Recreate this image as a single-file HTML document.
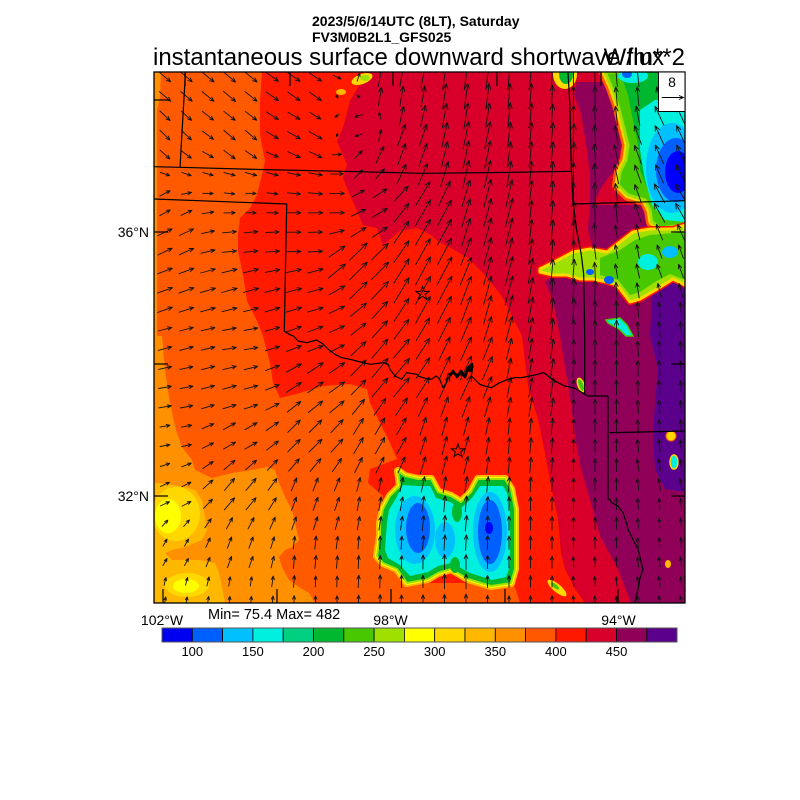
<!DOCTYPE html>
<html><head><meta charset="utf-8"><style>html,body{margin:0;padding:0;background:#fff}svg{display:block}</style></head>
<body>
<svg id="s" width="800" height="800" viewBox="0 0 800 800" xmlns="http://www.w3.org/2000/svg" font-family="'Liberation Sans', Arial, sans-serif">
<rect width="800" height="800" fill="#fff"/>
<defs><clipPath id="mc"><rect x="154" y="72" width="531" height="531"/></clipPath></defs>
<g clip-path="url(#mc)">
  <rect x="154" y="72" width="531" height="531" fill="#FF5A00"/>
  <polygon fill="#FF9000" points="154,72 161,72 160,98 157,110 157,336 162,336 165,370 170,403 176,430 182,447 192,460 195,470 212,478 232,473 252,470 267,467 275,470 279,483 285,497 292,510 295,523 299,540 292,547 285,550 279,557 282,567 289,580 299,587 309,593 315,603 154,603"/>
  <polygon fill="#FFB800" points="154,483 159,483 185,487 195,490 202,500 205,517 207,530 202,540 185,547 172,550 165,553 172,560 199,560 215,563 219,573 222,587 225,603 154,603"/>
  <ellipse cx="176" cy="514" rx="24" ry="27" fill="#FFD800"/>
  <ellipse cx="168" cy="516" rx="13" ry="17" fill="#FFFF00"/>
  <ellipse cx="187" cy="585" rx="22" ry="12" fill="#FFD800"/>
  <ellipse cx="186" cy="586" rx="13" ry="7" fill="#FFFF00"/>
  <polygon fill="#FF1A00" points="262,72 260,101 260,135 265,161 262,175 257,195 250,208 240,218 238,235 238,251 243,275 247,301 257,321 263,336 270,363 273,383 280,398 300,393 323,386 350,384 367,389 370,403 380,423 390,443 397,459 370,469 368,483 383,496 380,536 380,560 400,575 420,583 480,583 512,583 516,590 520,603 685,603 685,72"/>
  <polygon fill="#D8002A" points="367,72 350,101 343,128 337,141 347,165 343,178 350,195 357,211 363,225 377,228 383,245 400,231 417,228 431,235 438,241 451,248 468,258 485,275 501,295 508,308 518,328 522,336 528,386 538,419 545,453 551,486 558,519 561,553 565,569 575,589 585,603 685,603 685,72"/>
  <polygon fill="#900058" points="553,300 560,336 571,403 575,436 581,469 591,503 600,536 618,569 631,603 685,603 685,280 673,279 657,289 640,299 630,302 617,285 607,282 593,279 580,279 567,275 553,275 545,282"/>
  <polygon fill="#900058" points="577,82 607,82 613,92 620,115 627,132 620,152 617,169 607,179 600,190 593,205 650,205 650,228 633,232 620,242 607,252 593,249 588,230 590,200 590,175 587,150 583,125 580,110 574,95"/>
  <polygon fill="#5A008C" points="652,280 685,280 685,492 665,489 655,469 653,436 655,403 658,369 650,336 652,300"/>
  <!-- top-right cloud region -->
  <polygon fill="none" stroke="#FF5A00" stroke-width="12" stroke-linejoin="round" points="605,72 612,88 618,105 623,125 628,145 626,160 620,172 618,185 628,195 645,200 650,210 652,222 660,228 685,225 685,72"/>
  <polygon fill="none" stroke="#FFD800" stroke-width="7" stroke-linejoin="round" points="605,72 612,88 618,105 623,125 628,145 626,160 620,172 618,185 628,195 645,200 650,210 652,222 660,228 685,225 685,72"/>
  <polygon fill="#48C800" stroke="#A0E000" stroke-width="3" stroke-linejoin="round" points="605,72 612,88 618,105 623,125 628,145 626,160 620,172 618,185 628,195 645,200 650,210 652,222 660,228 685,225 685,72"/>
  <polygon fill="#00B830" points="620,72 628,95 633,120 638,145 640,170 648,190 660,205 685,210 685,72"/>
  <polygon fill="#00F0E0" points="640,110 655,100 670,100 685,95 685,222 665,220 652,205 645,180 640,150"/>
  <ellipse cx="633" cy="76" rx="15" ry="7" fill="#00F0E0"/>
  <ellipse cx="627" cy="74" rx="5" ry="4" fill="#0060FF"/>
  <ellipse cx="672" cy="168" rx="26" ry="45" fill="#00C0FF"/>
  <ellipse cx="676" cy="170" rx="20" ry="32" fill="#0060FF"/>
  <ellipse cx="678" cy="172" rx="13" ry="21" fill="#0000FF"/>
  <ellipse cx="565" cy="74" rx="12" ry="15" fill="#FFD800"/>
  <ellipse cx="566" cy="74" rx="7" ry="10" fill="#00B830"/>
  <!-- storm band -->
  <polygon fill="none" stroke="#FF1800" stroke-width="6" stroke-linejoin="round" points="540,269 560,259 573,252 590,249 607,252 620,242 633,232 650,229 673,229 685,225 685,285 673,279 657,289 640,299 630,302 617,285 607,282 593,279 580,279 567,275 553,275 540,272"/>
  <polygon fill="#A0E000" stroke="#FFD800" stroke-width="3" stroke-linejoin="round" points="540,269 560,259 573,252 590,249 607,252 620,242 633,232 650,229 673,229 685,225 685,285 673,279 657,289 640,299 630,302 617,285 607,282 593,279 580,279 567,275 553,275 540,272"/>
  <polygon fill="#48C800" points="600,258 620,250 635,240 650,235 685,232 685,280 670,274 655,282 640,292 630,295 618,280 600,275"/>
  <ellipse cx="648" cy="262" rx="10" ry="8" fill="#00F0E0"/>
  <ellipse cx="670" cy="252" rx="8" ry="6" fill="#00C0FF"/>
  <ellipse cx="590" cy="272" rx="4" ry="3" fill="#0060FF"/>
  <ellipse cx="609" cy="280" rx="5" ry="4" fill="#0060FF"/>
  <polygon fill="#00F0E0" stroke="#48C800" stroke-width="1.5" points="606,320 620,318 627,325 633,336 626,336 619,329 608,323"/>
  <ellipse cx="581" cy="385" rx="3" ry="7" fill="#48C800" stroke="#FFD800" stroke-width="1.5" transform="rotate(-20 581 385)"/>
  <ellipse cx="671" cy="436" rx="5" ry="5" fill="#FFD800" stroke="#FF5A00" stroke-width="1"/>
  <ellipse cx="674" cy="462" rx="4" ry="7" fill="#00F0E0" stroke="#FFD800" stroke-width="1.5"/>
  <ellipse cx="668" cy="564" rx="3" ry="4" fill="#FFB800"/>
  <ellipse cx="557" cy="588" rx="12" ry="4" fill="#FFD800" transform="rotate(40 557 588)"/>
  <ellipse cx="555" cy="586" rx="5" ry="2" fill="#48C800" transform="rotate(40 555 586)"/>
  <ellipse cx="362" cy="79" rx="11" ry="5" fill="#FFD800" transform="rotate(-20 362 79)"/>
  <ellipse cx="365" cy="78" rx="5" ry="3" fill="#A0E000"/>
  <ellipse cx="341" cy="92" rx="5" ry="3" fill="#FFB800"/>
  <!-- southern blob -->
  <polygon fill="none" stroke="#FFB800" stroke-width="8" stroke-linejoin="round" points="398,471 405,476 418,479 431,479 438,492 451,496 461,502 471,492 478,479 505,479 511,489 515,509 515,569 511,583 491,586 468,579 451,569 438,573 428,579 407,583 397,569 383,563 377,556 380,536 380,523 383,509 390,496 400,486"/>
  <polygon fill="none" stroke="#FFFF00" stroke-width="4" stroke-linejoin="round" points="398,471 405,476 418,479 431,479 438,492 451,496 461,502 471,492 478,479 505,479 511,489 515,509 515,569 511,583 491,586 468,579 451,569 438,573 428,579 407,583 397,569 383,563 377,556 380,536 380,523 383,509 390,496 400,486"/>
  <polygon fill="#00B830" stroke="#A0E000" stroke-width="2" stroke-linejoin="round" points="398,471 405,476 418,479 431,479 438,492 451,496 461,502 471,492 478,479 505,479 511,489 515,509 515,569 511,583 491,586 468,579 451,569 438,573 428,579 407,583 397,569 383,563 377,556 380,536 380,523 383,509 390,496 400,486"/>
  <polygon fill="#00F0E0" points="403,485 418,486 430,486 436,498 450,502 461,508 472,498 480,486 503,486 507,493 510,510 510,566 506,577 492,580 470,573 452,563 438,566 428,572 410,576 400,565 388,558 385,550 386,536 387,523 389,510 395,500"/>
  <ellipse cx="415" cy="530" rx="20" ry="34" fill="#00C0FF"/>
  <ellipse cx="490" cy="532" rx="17" ry="40" fill="#00C0FF"/>
  <ellipse cx="445" cy="540" rx="10" ry="18" fill="#00C0FF"/>
  <ellipse cx="418" cy="528" rx="12" ry="25" fill="#0060FF"/>
  <ellipse cx="490" cy="532" rx="12" ry="32" fill="#0060FF"/>
  <ellipse cx="489" cy="528" rx="4" ry="6" fill="#0000FF"/>
  <ellipse cx="457" cy="512" rx="5" ry="10" fill="#00B830"/>
  <ellipse cx="455" cy="565" rx="5" ry="8" fill="#00B830"/>
  <!-- arrows -->
  <g id="arrows" stroke="#141414" stroke-width="0.9" fill="none" stroke-linecap="round" stroke-linejoin="round"></g>
  <!-- states -->
  <g stroke="#000" stroke-width="1.2" fill="none" stroke-linejoin="round">
    <polyline points="185.5,72 180,167.5"/>
    <polyline points="154,166.7 180,167.3 260,169.5 343,171.3 420,173.3 500,172.5 571,171.3"/>
    <polyline points="154,199 286.7,204 284.3,331.3 290,334.7 293.3,336 298.3,341 306.7,342.7 316.7,340 323.3,344.3 328.3,349.3 335,354.3 341.7,357.7 350,359.3 356.7,361 363.3,362.7 370,364.3 383.3,362.7 388.3,364.3 390,369.3 395,376 401.7,379.3 406.7,372.7 416.7,374.3 418,376 423,377.7 431.3,379.3 436.3,376 439.7,379.3 443,387.7 446.3,382.7 448,374.3 451.3,372.7 458,374.3 463,375.3 468,371 471.3,367.7 473,366 471.3,376 474.7,379.3 479.7,384.3 484.7,386 491.3,387.7 499.7,382.7 508,379.3 514.7,377.7 521.3,377.7 529.7,376 538,374.3 543,372.7 546.3,374.3 549.7,377.7 558,382.7 564.7,386 573,387.7 579.7,391 584.7,394.3 588,396 594.7,396 608,396"/>
    <polyline points="568,72.7 569.7,101.3 571.3,168 573,201.3 576.3,228 581.3,254.7 583.7,274.7 584.7,338 584.7,394.3"/>
    <polyline points="573,204 685,200.7"/>
    <polyline points="608,396 608,499.3 609.7,499.3 611.7,502.7 618,506 623,512.7 626.3,522.7 628,529.3 631.3,536 634.7,542.7 638,549.3 639.7,556 641.3,562.7 643,569.3 639.7,579.3 638,589.3 634.7,603"/>
    <polyline points="609.7,432.7 685,431"/>
    <polyline stroke-width="2.6" points="450,376 453,371 457,377 461,371 465,377 468,368 472,364 470,372"/>
  </g>
  <g stroke="#000" stroke-width="1" fill="none">
    <path transform="translate(422.5,293.5)" d="M0,-7 L1.65,-2.27 L6.66,-2.16 L2.66,0.87 L4.11,5.66 L0,2.8 L-4.11,5.66 L-2.66,0.87 L-6.66,-2.16 L-1.65,-2.27 Z"/>
    <path transform="translate(458,451)" d="M0,-7 L1.65,-2.27 L6.66,-2.16 L2.66,0.87 L4.11,5.66 L0,2.8 L-4.11,5.66 L-2.66,0.87 L-6.66,-2.16 L-1.65,-2.27 Z"/>
  </g>
</g>
<!-- frame & ticks -->
<rect x="154" y="72" width="531" height="531" fill="none" stroke="#000" stroke-width="1.3"/>
<g stroke="#000" stroke-width="1.2">
  <line x1="185" y1="72" x2="185" y2="86"/><line x1="290" y1="72" x2="290" y2="86"/><line x1="393" y1="72" x2="393" y2="86"/><line x1="497" y1="72" x2="497" y2="86"/><line x1="601" y1="72" x2="601" y2="86"/>
  <line x1="163" y1="603" x2="163" y2="589"/><line x1="277" y1="603" x2="277" y2="589"/><line x1="391" y1="603" x2="391" y2="589"/><line x1="505" y1="603" x2="505" y2="589"/><line x1="618" y1="603" x2="618" y2="589"/>
  <line x1="154" y1="100" x2="168" y2="100"/><line x1="154" y1="232" x2="168" y2="232"/><line x1="154" y1="364" x2="168" y2="364"/><line x1="154" y1="496" x2="168" y2="496"/>
  <line x1="685" y1="100" x2="671" y2="100"/><line x1="685" y1="232" x2="671" y2="232"/><line x1="685" y1="364" x2="671" y2="364"/><line x1="685" y1="496" x2="671" y2="496"/>
</g>
<!-- reference vector box -->
<rect x="658.5" y="72" width="26.5" height="39.5" fill="#fff" stroke="#000" stroke-width="1"/>
<text x="672" y="87" font-size="14" text-anchor="middle" fill="#000">8</text>
<g stroke="#000" stroke-width="0.9" fill="none"><path d="M661.7,97.5 L683.5,97.5 M679,95.5 L683.5,97.5 L679,99.5"/></g>
<!-- titles -->
<text x="312" y="26" font-size="14" font-weight="bold" fill="#000">2023/5/6/14UTC (8LT), Saturday</text>
<text x="312" y="42" font-size="14" font-weight="bold" fill="#000">FV3M0B2L1_GFS025</text>
<text x="153" y="65" font-size="24" fill="#000">instantaneous surface downward shortwave flux</text>
<text x="685" y="65" font-size="24" text-anchor="end" fill="#000">W/m**2</text>
<!-- axis labels -->
<text x="149" y="237" font-size="14" text-anchor="end" fill="#000">36°N</text>
<text x="149" y="501" font-size="14" text-anchor="end" fill="#000">32°N</text>
<text x="162" y="625" font-size="14" text-anchor="middle" fill="#000">102°W</text>
<text x="390.5" y="625" font-size="14" text-anchor="middle" fill="#000">98°W</text>
<text x="618.5" y="625" font-size="14" text-anchor="middle" fill="#000">94°W</text>
<text x="208" y="619" font-size="14.5" fill="#000">Min= 75.4 Max= 482</text>
<!-- colorbar -->
<g stroke="#000" stroke-width="0.8">
  <rect x="162.0" y="628" width="30.3" height="14" fill="#0000F0"/>
  <rect x="192.3" y="628" width="30.3" height="14" fill="#0060FF"/>
  <rect x="222.6" y="628" width="30.3" height="14" fill="#00C0FF"/>
  <rect x="252.9" y="628" width="30.3" height="14" fill="#00F0E0"/>
  <rect x="283.2" y="628" width="30.3" height="14" fill="#00D080"/>
  <rect x="313.5" y="628" width="30.3" height="14" fill="#00B830"/>
  <rect x="343.8" y="628" width="30.3" height="14" fill="#48C800"/>
  <rect x="374.1" y="628" width="30.3" height="14" fill="#A0E000"/>
  <rect x="404.4" y="628" width="30.3" height="14" fill="#FFFF00"/>
  <rect x="434.7" y="628" width="30.3" height="14" fill="#FFD800"/>
  <rect x="465.0" y="628" width="30.3" height="14" fill="#FFB800"/>
  <rect x="495.3" y="628" width="30.3" height="14" fill="#FF9000"/>
  <rect x="525.6" y="628" width="30.3" height="14" fill="#FF5800"/>
  <rect x="555.9" y="628" width="30.3" height="14" fill="#FF1800"/>
  <rect x="586.2" y="628" width="30.3" height="14" fill="#D8002A"/>
  <rect x="616.5" y="628" width="30.3" height="14" fill="#900058"/>
  <rect x="646.8" y="628" width="30.3" height="14" fill="#5A008C"/>
</g>
<rect x="162" y="628" width="515" height="14" fill="none" stroke="#555" stroke-width="1"/>
<g font-size="13" text-anchor="middle" fill="#000">
  <text x="192.3" y="656">100</text>
  <text x="252.9" y="656">150</text>
  <text x="313.5" y="656">200</text>
  <text x="374.1" y="656">250</text>
  <text x="434.7" y="656">300</text>
  <text x="495.3" y="656">350</text>
  <text x="555.9" y="656">400</text>
  <text x="616.5" y="656">450</text>
</g>
</svg>
<script>
(function(){
var C=[
[170,80,-40,15],[230,80,-40,16],[300,85,-35,15],[170,140,-45,14],[240,140,-40,15],[310,140,-30,15],[355,125,200,8],
[175,178,-20,10],[250,178,-15,12],[320,178,-10,14],
[170,200,30,12],[250,200,0,10],[330,200,0,15],[360,170,45,12],[380,210,30,17],
[170,240,25,16],[240,240,5,14],[300,240,0,14],[170,290,20,16],[240,290,15,16],[310,290,15,16],[170,340,15,14],[240,340,10,14],[310,340,20,16],
[400,90,80,21],[460,90,82,26],[520,90,85,26],[400,150,70,24],[470,150,78,28],[540,150,85,26],[420,220,60,30],[490,220,75,30],[550,220,85,25],
[360,270,45,25],[430,280,62,32],[500,290,75,30],[560,290,85,24],
[580,90,90,20],[620,100,95,19],[665,130,115,21],[640,190,110,19],[670,200,120,22],[600,200,92,21],[620,250,100,14],[670,260,110,14],[600,330,90,18],[660,330,95,15],
[170,390,10,13],[240,390,15,14],[320,380,35,19],[390,370,50,25],[460,370,65,26],[530,380,80,20],[600,400,90,15],[660,420,95,13],
[170,440,10,10],[240,440,30,14],[310,440,45,18],[380,440,60,19],[450,440,75,19],[520,450,85,16],[600,460,90,13],[660,470,100,12],
[170,490,25,10],[240,490,50,16],[310,500,70,14],[380,500,80,14],[450,520,85,16],[520,520,90,14],[600,520,90,12],[660,530,95,10],
[170,550,60,8],[240,550,70,12],[310,560,85,13],[380,560,88,13],[450,570,90,15],[520,570,90,12],[600,570,95,10],[660,580,100,10],
[170,600,80,8],[240,600,85,9],[320,600,90,10],[420,600,90,12],[520,600,90,10],[620,600,95,9]
];
var d='';
function f(n){return n.toFixed(1);}
for(var j=0;j<28;j++){var cy=77+j*19.4;
 for(var i=0;i<25;i++){var cx=165+i*21.5;
  var su=0,sv=0,sw=0;
  for(var k=0;k<C.length;k++){var c=C[k];var dx=cx-c[0],dy=cy-c[1];var d2=dx*dx+dy*dy+25;var w=1/(d2*d2);var a=c[2]*Math.PI/180;su+=w*c[3]*Math.cos(a);sv+=w*(-c[3]*Math.sin(a));sw+=w;}
  var u=su/sw,v=sv/sw;var L=Math.sqrt(u*u+v*v);if(L<1.5)continue;
  var x1=cx-u/2,y1=cy-v/2,x2=cx+u/2,y2=cy+v/2;
  var h=Math.min(6,2+0.17*L);var an=Math.atan2(v,u);
  var a1=an+Math.PI-0.4,a2=an+Math.PI+0.4;
  d+='M'+f(x1)+','+f(y1)+'L'+f(x2)+','+f(y2)+'M'+f(x2+h*Math.cos(a1))+','+f(y2+h*Math.sin(a1))+'L'+f(x2)+','+f(y2)+'L'+f(x2+h*Math.cos(a2))+','+f(y2+h*Math.sin(a2));
 }}
var p=document.createElementNS('http://www.w3.org/2000/svg','path');p.setAttribute('d',d);
document.getElementById('arrows').appendChild(p);
})();
</script>
</body></html>
